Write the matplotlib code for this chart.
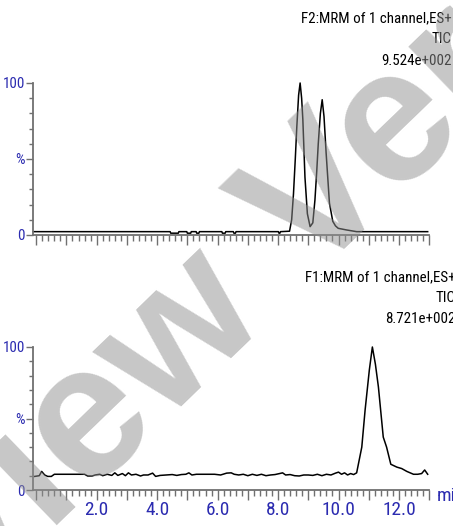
import matplotlib
matplotlib.use("Agg")
import matplotlib.pyplot as plt
from matplotlib import font_manager as fm
from matplotlib.ticker import MultipleLocator, FuncFormatter

# Chromatogram traces (time in min, intensity in %)
top_t = [-0.1, 4.43, 4.45, 4.70, 4.72, 4.98, 5.0, 5.11, 5.13, 5.29, 5.31, 5.38, 5.40,
         6.14, 6.16, 6.25, 6.27, 6.52, 6.54, 6.59, 6.61, 8.01, 8.03, 8.06, 8.08,
         8.38, 8.45, 8.51, 8.57, 8.62, 8.68, 8.73, 8.78, 8.82, 8.89, 8.97, 9.06,
         9.15, 9.22, 9.28, 9.33, 9.40, 9.46, 9.52, 9.59, 9.70, 9.81, 9.90, 9.99,
         10.27, 10.6, 12.95]
top_y = [2.2, 2.2, 1.2, 1.2, 2.2, 2.2, 1.2, 1.2, 2.2, 2.2, 1.2, 1.2, 2.2,
         2.2, 1.2, 1.2, 2.2, 2.2, 1.2, 1.2, 2.2, 2.2, 1.2, 1.2, 2.2,
         2.5, 10, 27, 50, 71, 92, 100, 90, 76, 38, 14, 5.5,
         8, 23, 42, 60, 80, 89, 78, 54, 21, 9, 6, 4.4,
         3.3, 2.2, 2.2]

bot_t = [-0.05, 0.1, 0.18, 0.28, 0.38, 0.5, 0.6, 0.8, 1.0, 1.2, 1.4, 1.6, 1.7, 1.85,
         1.95, 2.1, 2.2, 2.35, 2.5, 2.6, 2.7, 2.85, 2.95, 3.05, 3.15, 3.3, 3.45, 3.55,
         3.7, 3.85, 3.95, 4.1, 4.3, 4.5, 4.65, 4.8, 4.95, 5.05, 5.15, 5.3, 5.5, 5.7,
         5.9, 6.1, 6.3, 6.45, 6.55, 6.7, 6.85, 7.0, 7.15, 7.3, 7.45, 7.6, 7.75, 7.9,
         8.05, 8.15, 8.25, 8.4, 8.55, 8.7, 8.85, 9.0, 9.15, 9.3, 9.45, 9.6, 9.75, 9.9,
         10.0, 10.1, 10.2, 10.3, 10.4, 10.5, 10.6, 10.77, 10.88, 11.02, 11.12, 11.22,
         11.32, 11.48, 11.59, 11.73, 11.93, 12.09, 12.26, 12.48, 12.62, 12.75, 12.85, 12.95]
bot_y = [9.5, 10, 13, 10.5, 9.5, 9.5, 11, 11, 11, 11, 11, 11, 9.8, 9.8,
         10.5, 11, 10, 11, 10.2, 12, 10.2, 11.5, 10, 12, 10.5, 11, 9.8, 10.5,
         10.5, 11.8, 9.5, 10.2, 10.5, 10.8, 10.2, 10.8, 11, 12, 10.5, 11, 11, 11,
         11, 10.5, 11.8, 12, 11, 10.5, 11, 10, 11, 10.2, 11, 10, 10.5, 10.8,
         11.5, 12, 10.5, 10.8, 10, 9.8, 10.5, 10.5, 10.2, 11, 10, 11, 10.5, 11.8,
         12.5, 11, 12, 10.5, 11.5, 10.8, 12, 30, 56, 84, 100, 88,
         72, 37, 30, 18, 16, 15, 13, 11, 11, 11.5, 14, 11]

top_header = ["F2:MRM of 1 channel,ES+", "TIC", "9.524e+002"]
bot_header = ["F1:MRM of 1 channel,ES+", "TIC", "8.721e+002"]

BLUE = "#2b2bb0"
AXIS_GREY = "#707070"


def pick_narrow_font():
    # prefer a narrow/condensed sans if one is installed, else Liberation Sans
    prefs = ["liberation sans narrow", "arial narrow", "roboto condensed",
             "open sans condensed", "noto sans condensed", "dejavu sans condensed"]
    fonts = fm.fontManager.ttflist
    for p in prefs:
        for f in fonts:
            if f.name.lower() == p and f.weight in (400, "normal", "regular") and f.style == "normal":
                return fm.FontProperties(fname=f.fname)
    for f in fonts:
        if f.name == "DejaVu Sans" and f.stretch == "condensed" and f.style == "normal" \
                and f.weight in (400, "normal"):
            return fm.FontProperties(fname=f.fname)
    return fm.FontProperties(family="Liberation Sans")


FP = pick_narrow_font()

W, H = 453, 526
fig = plt.figure(figsize=(W / 100, H / 100), dpi=100)
renderer = fig.canvas.get_renderer()

# header size: between matching the reference width (~137 px) and its cap height
probe = fig.text(0, 0, top_header[0], fontproperties=FP, fontsize=11)
fs_w = 11 * 137.0 / probe.get_window_extent(renderer).width
probe.remove()
HEAD_FS = 0.4 * fs_w + 0.6 * 11.5
k = HEAD_FS / 10.5


def px_box(x0, x1, y_top, y_bot):
    return [x0 / W, 1 - y_bot / H, (x1 - x0) / W, (y_bot - y_top) / H]


def style_axis(ax, show_labels):
    ax.set_xlim(-0.1, 13.0)
    ax.set_ylim(0, 100)
    for s in ("top", "right"):
        ax.spines[s].set_visible(False)
    for s in ("left", "bottom"):
        ax.spines[s].set_color(AXIS_GREY)
        ax.spines[s].set_linewidth(1.3)
    ax.xaxis.set_major_locator(MultipleLocator(1))
    ax.xaxis.set_minor_locator(MultipleLocator(0.2))
    ax.yaxis.set_major_locator(MultipleLocator(50))
    ax.yaxis.set_minor_locator(MultipleLocator(10))
    ax.tick_params(axis="x", which="major", length=7, width=1, color=AXIS_GREY,
                   labelcolor=BLUE, pad=1)
    ax.tick_params(axis="x", which="minor", length=4, width=1, color=AXIS_GREY)
    ax.tick_params(axis="y", which="major", length=5, width=1, color=AXIS_GREY,
                   labelcolor=BLUE, pad=1)
    ax.tick_params(axis="y", which="minor", length=3, width=1, color=AXIS_GREY)
    ax.yaxis.set_major_formatter(FuncFormatter(
        lambda v, p: {0: "0", 50: "%", 100: "100"}.get(int(round(v)), "")))
    if show_labels:
        ax.xaxis.set_major_formatter(FuncFormatter(
            lambda v, p: f"{v:.1f}" if int(round(v)) % 2 == 0 and 0 < v < 13 else ""))
    else:
        ax.tick_params(axis="x", labelbottom=False)
    for lab in ax.get_xticklabels():
        lab.set_fontproperties(FP)
        lab.set_fontsize(13.5 * k)
    for lab in ax.get_yticklabels():
        lab.set_fontproperties(FP)
        lab.set_fontsize(10.5 * k)


ax1 = fig.add_axes(px_box(33.2, 429.2, 83, 235))
ax1.plot(top_t, top_y, color="black", lw=1.1, clip_on=False)
style_axis(ax1, False)

ax2 = fig.add_axes(px_box(33.2, 429.2, 347, 490))
ax2.plot(bot_t, bot_y, color="black", lw=1.1, clip_on=False)
style_axis(ax2, True)

# header text in the top right of each trace
for txt, y in zip(top_header, [18, 39, 61]):
    fig.text(452 / W, 1 - y / H, txt, ha="right", va="center", fontproperties=FP,
             fontsize=HEAD_FS, color="black")
for txt, y in zip(bot_header, [277, 298, 319]):
    fig.text(456 / W, 1 - y / H, txt, ha="right", va="center", fontproperties=FP,
             fontsize=HEAD_FS, color="black")

fig.text(437 / W, 1 - 496 / H, "min", ha="left", va="center", fontproperties=FP,
         fontsize=13.5 * k, color=BLUE)

# grey "Preview" watermark across the page
fig.text(278 / W, 1 - 313 / H, "Preview Version", fontsize=138, fontweight="bold",
         family="Liberation Sans", color="#909090", alpha=0.5, rotation=44,
         rotation_mode="anchor", ha="center", va="baseline", zorder=10)

fig.savefig("out.png", dpi=100)
